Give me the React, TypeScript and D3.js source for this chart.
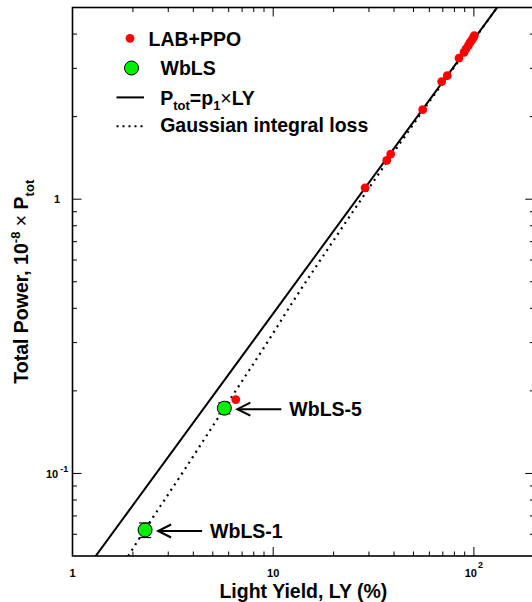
import React from "react";
import * as d3 from "d3";

// LAB+PPO samples (light yield %, total power)
const lyLab = [28.7, 36.8, 38.5, 55.6, 69.1, 73.7, 84.3, 89.3, 91.3, 93.8, 95.6, 97.5, 99.3, 100.5, 6.51];
const pLab = [1.1, 1.385, 1.46, 2.12, 2.685, 2.82, 3.27, 3.43, 3.53, 3.63, 3.72, 3.8, 3.88, 3.95, 0.186];

// WbLS samples
const wbNames = ["WbLS-1", "WbLS-5"];
const lyWb = [2.3, 5.71];
const pWb = [0.0622, 0.173];
const errWb = [0.0038, 0.008];

// linear fit P = p1 * LY
const p1 = 0.0383;
const fitLY = [1, 200];

// Gaussian integral loss curve
const lossLY = [1.895, 2.29, 3.61, 5.71, 9.52, 12.72, 18.6, 27.4, 40.7, 61.0, 92.2, 130.5];
const lossP = [0.05, 0.0622, 0.103, 0.173, 0.307, 0.43, 0.654, 0.996, 1.516, 2.307, 3.512, 5.0];

const xMajor = [1, 10, 100];
const xLabels = [["1", ""], ["10", ""], ["10", "2"]];
const yMajor = [0.1, 1];
const yLabels = [["10", "-1"], ["1", ""]];

const W = 532;
const H = 602;
const left = 72.5, right = 534.3, top = 7.5, bottom = 556;
const font = "'Liberation Sans', Arial, Helvetica, sans-serif";

export default function App() {
  const x = d3.scaleLog().domain([1, 200]).range([left, right]);
  const y = d3.scaleLog().domain([0.05, 5]).range([bottom, top]);

  const minorX: number[] = [];
  [1, 10, 100].forEach(d => d3.range(2, 10).forEach(m => { if (d * m <= 200) minorX.push(d * m); }));
  const minorY: number[] = [];
  [0.01, 0.1, 1].forEach(d => d3.range(2, 10).forEach(m => {
    const v = d * m;
    if (v > 0.05 && v < 5) minorY.push(v);
  }));

  const fitLine = d3.line<number>().x(d => x(d)).y(d => y(p1 * d))(fitLY) || "";
  const lossLine = d3.line<number>()
    .x(d => x(lossLY[d]))
    .y(d => y(lossP[d]))
    .curve(d3.curveMonotoneX)(d3.range(lossLY.length)) || "";

  const majLen = 9, minLen = 4.5;

  return (
    <div style={{ position: "absolute", left: 0, top: 0 }}>
      <svg width={W} height={H} style={{ display: "block", background: "#fff" }} fontFamily={font}>
        <defs>
          <clipPath id="plot">
            <rect x={left} y={top} width={right - left} height={bottom - top} />
          </clipPath>
        </defs>

        {/* curves */}
        <g clipPath="url(#plot)" fill="none" stroke="#000">
          <path d={lossLine} strokeWidth={2.2} strokeDasharray="2 4.5" />
          <path d={fitLine} strokeWidth={2} />
        </g>

        {/* LAB+PPO points */}
        <g fill="#ff0000">
          {lyLab.map((v, i) => (
            <circle key={i} cx={x(v)} cy={y(pLab[i])} r={4.4} />
          ))}
        </g>

        {/* WbLS points with error bars */}
        {lyWb.map((v, i) => {
          const cx = x(v);
          const y0 = y(pWb[i] - errWb[i]);
          const y1 = y(pWb[i] + errWb[i]);
          return (
            <g key={i}>
              <line x1={cx} x2={cx} y1={y0} y2={y1} stroke="#000" strokeWidth={1.2} />
              <line x1={cx - 6} x2={cx + 6} y1={y0} y2={y0} stroke="#000" strokeWidth={1.2} />
              <line x1={cx - 6} x2={cx + 6} y1={y1} y2={y1} stroke="#000" strokeWidth={1.2} />
              <circle cx={cx} cy={y(pWb[i])} r={7} fill="#00ee00" stroke="#000" strokeWidth={1} />
            </g>
          );
        })}

        {/* annotations */}
        {wbNames.map((n, i) => {
          const tipX = x(lyWb[i]) + 13;
          const ay = y(pWb[i]) + 1;
          const endX = tipX + 44;
          return (
            <g key={n}>
              <line x1={tipX} x2={endX} y1={ay} y2={ay} stroke="#000" strokeWidth={2} />
              <path d={`M${tipX + 13},${ay - 6.5} L${tipX},${ay} L${tipX + 13},${ay + 6.5}`}
                fill="none" stroke="#000" strokeWidth={2} />
              <text x={endX + 8} y={ay + 7} fontSize={19.5} fontWeight="bold">{n}</text>
            </g>
          );
        })}

        {/* frame */}
        <rect x={left} y={top} width={right - left} height={bottom - top} fill="none" stroke="#000" strokeWidth={1.6} />

        {/* ticks */}
        <g stroke="#000" strokeWidth={1}>
          {xMajor.map(v => (
            <g key={"xm" + v}>
              <line x1={x(v)} x2={x(v)} y1={bottom} y2={bottom - majLen} />
              <line x1={x(v)} x2={x(v)} y1={top} y2={top + majLen} />
            </g>
          ))}
          {minorX.map(v => (
            <g key={"xn" + v}>
              <line x1={x(v)} x2={x(v)} y1={bottom} y2={bottom - minLen} />
              <line x1={x(v)} x2={x(v)} y1={top} y2={top + minLen} />
            </g>
          ))}
          {yMajor.map(v => (
            <g key={"ym" + v}>
              <line x1={left} x2={left + majLen} y1={y(v)} y2={y(v)} />
              <line x1={right} x2={right - majLen} y1={y(v)} y2={y(v)} />
            </g>
          ))}
          {minorY.map(v => (
            <g key={"yn" + v}>
              <line x1={left} x2={left + minLen} y1={y(v)} y2={y(v)} />
              <line x1={right} x2={right - minLen} y1={y(v)} y2={y(v)} />
            </g>
          ))}
        </g>

        {/* tick labels */}
        <g fontSize={11} fontWeight="bold">
          {xMajor.map((v, i) => (
            <text key={"xl" + v} x={x(v)} y={576.5} textAnchor="middle">
              {xLabels[i][0]}
              {xLabels[i][1] && <tspan dx={1} dy={-9} fontSize={9}>{xLabels[i][1]}</tspan>}
            </text>
          ))}
          {yMajor.map((v, i) => (
            yLabels[i][1] ? (
              <text key={"yl" + v} x={46} y={y(v) + 5}>
                {yLabels[i][0]}
                <tspan dx={2} dy={-6} fontSize={9}>{yLabels[i][1]}</tspan>
              </text>
            ) : (
              <text key={"yl" + v} x={60} y={y(v) + 4} textAnchor="end">{yLabels[i][0]}</text>
            )
          ))}
        </g>

        {/* axis titles */}
        <text x={(left + right) / 2} y={598} textAnchor="middle" fontSize={19.5} fontWeight="bold">
          Light Yield, LY (%)
        </text>
        <text transform={`translate(27.5,${(top + bottom) / 2}) rotate(-90)`} textAnchor="middle"
          fontSize={19.5} fontWeight="bold">
          Total Power, 10<tspan dy={-8} fontSize={13}>-8</tspan>
          <tspan dy={8}> </tspan><tspan fontWeight="normal">×</tspan> P
          <tspan dy={6} fontSize={13}>tot</tspan>
        </text>

        {/* legend */}
        <g fontSize={19.5} fontWeight="bold">
          <circle cx={130} cy={38.3} r={4.4} fill="#ff0000" />
          <text x={148.5} y={45.5}>LAB+PPO</text>
          <circle cx={131.5} cy={68} r={7} fill="#00ee00" stroke="#000" strokeWidth={1} />
          <text x={160.5} y={74.8}>WbLS</text>
          <line x1={116.5} x2={144} y1={97.4} y2={97.4} stroke="#000" strokeWidth={2} />
          <text x={160.2} y={105}>
            P<tspan dy={5} fontSize={13}>tot</tspan><tspan dy={-5}>=p</tspan>
            <tspan dy={5} fontSize={13}>1</tspan><tspan dy={-5} fontWeight="normal">×</tspan>LY
          </text>
          <line x1={116.5} x2={144} y1={126.2} y2={126.2} stroke="#000" strokeWidth={2} strokeDasharray="2 4" />
          <text x={160.2} y={132.3}>Gaussian integral loss</text>
        </g>
      </svg>
    </div>
  );
}
